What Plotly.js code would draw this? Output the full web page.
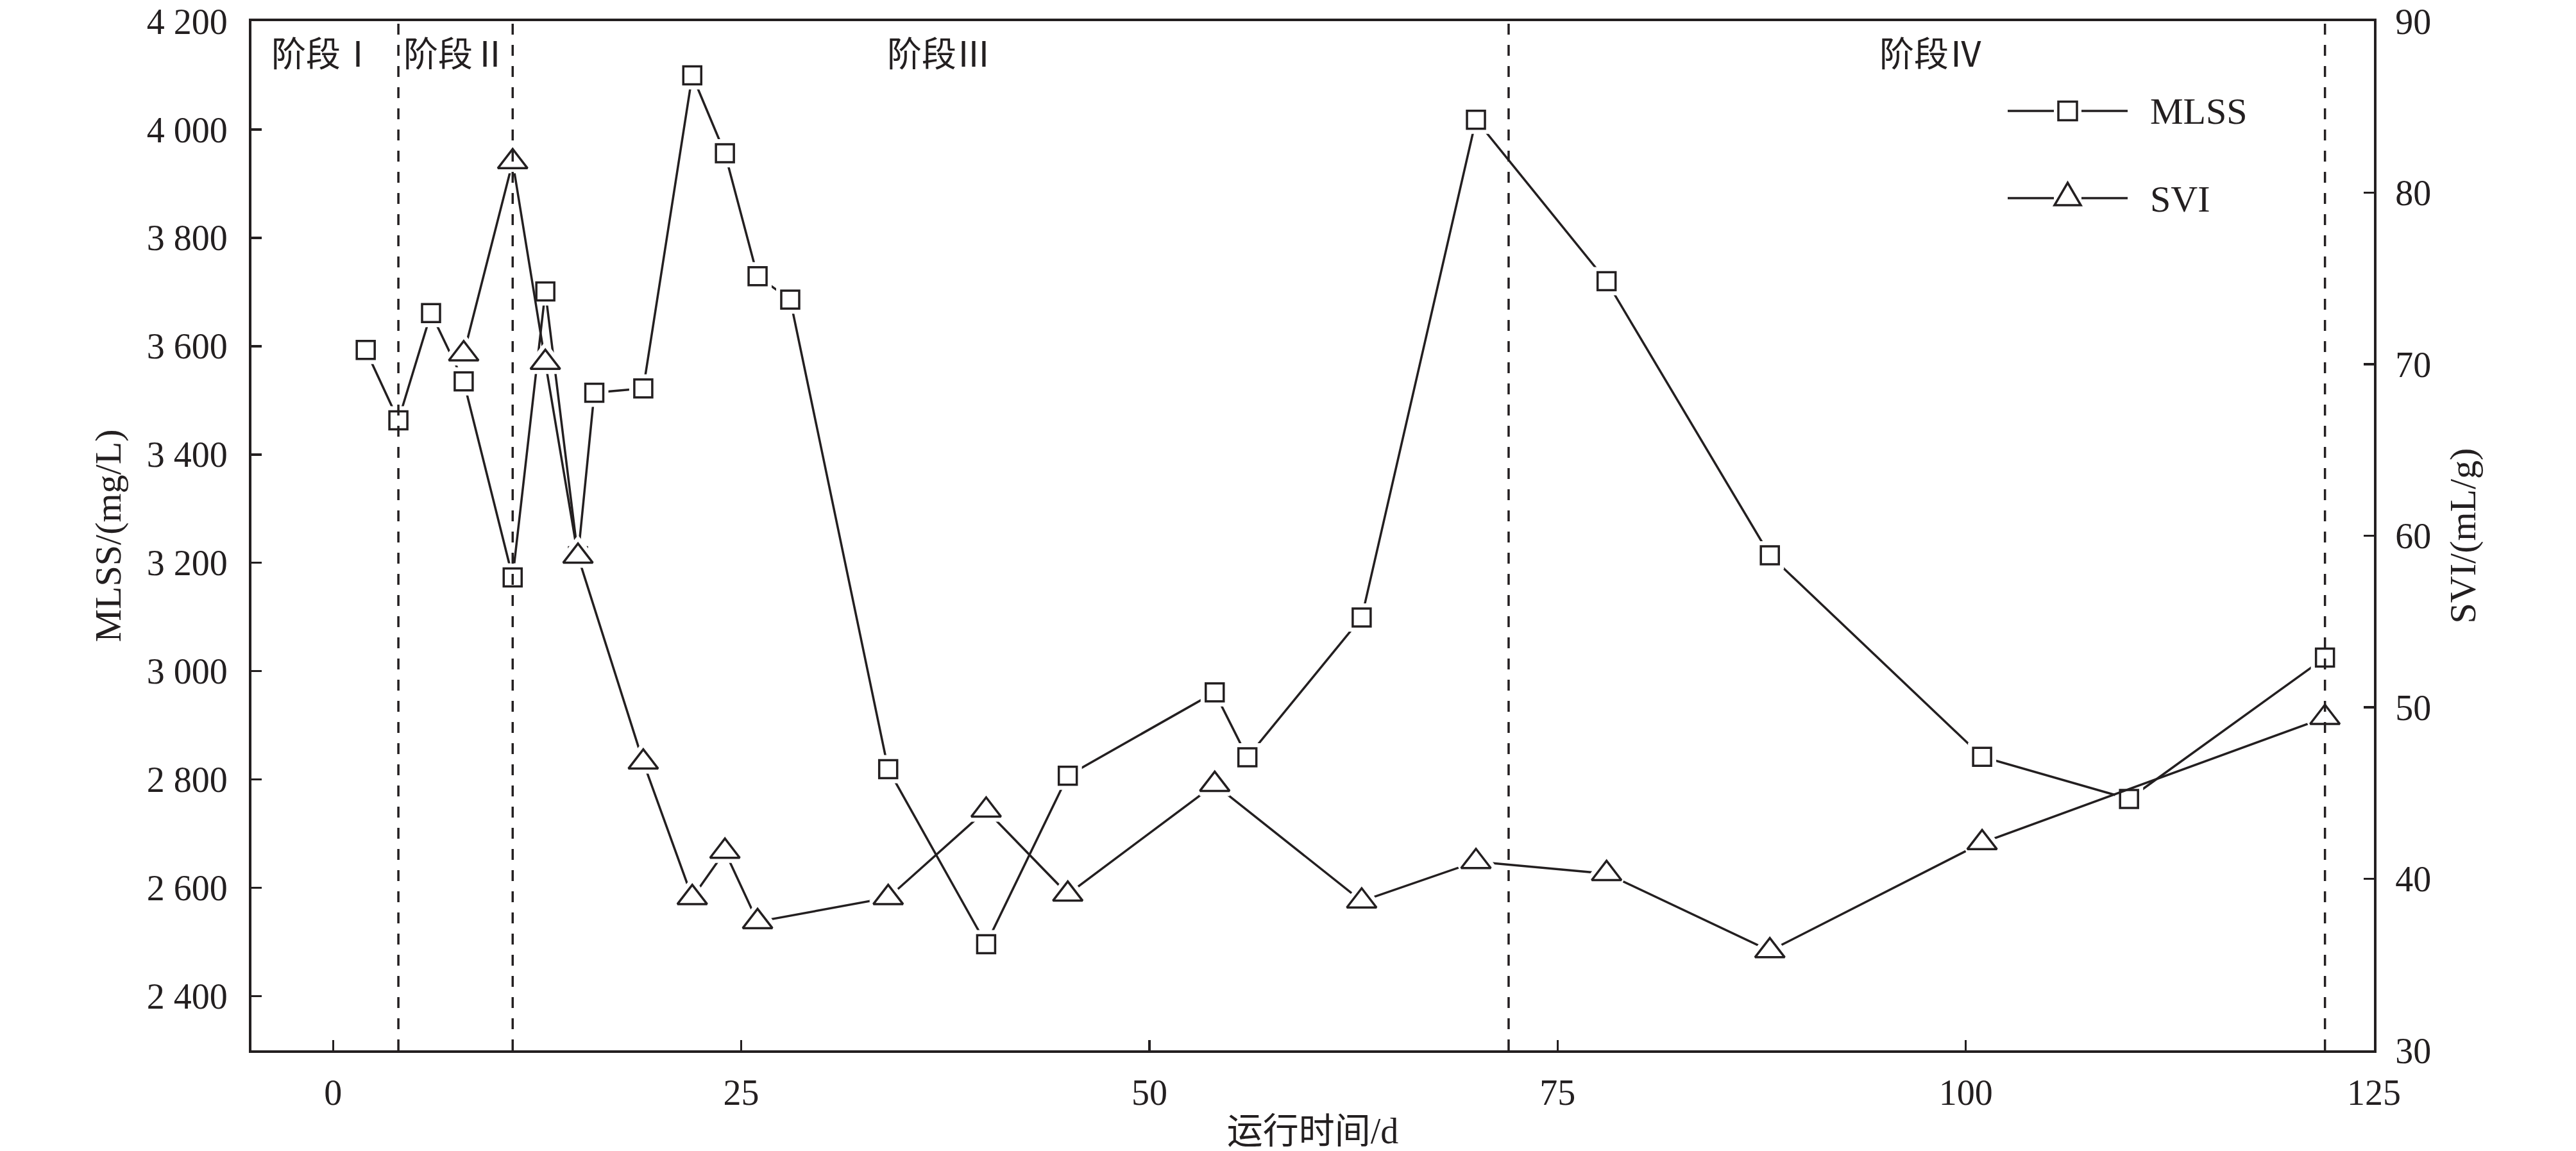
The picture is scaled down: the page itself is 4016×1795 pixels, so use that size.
<!DOCTYPE html>
<html>
<head>
<meta charset="utf-8">
<script src="https://cdn.plot.ly/plotly-3.0.1.min.js"></script>
<style>
html, body { margin: 0; padding: 0; background: #ffffff; }
#chart { width: 4016px; height: 1795px; }
</style>
</head>
<body>
<div id="chart"></div>
<script>
// ---- data ----
const mlssDays   = [2, 4, 6, 8, 11, 13, 15, 16, 19, 22, 24, 26, 28, 34, 40, 45, 54, 56, 63, 70, 78, 88, 101, 110, 122];
const mlssValues = [3593, 3463, 3661, 3535, 3173, 3701, 3212, 3514, 3522, 4100, 3956, 3729, 3686, 2819, 2496, 2807, 2961, 2841, 3099, 4018, 3720, 3214, 2842, 2764, 3025];

const sviDays   = [8, 11, 13, 15, 19, 22, 24, 26, 34, 40, 45, 54, 63, 70, 78, 88, 101, 122];
const sviValues = [70.6, 81.8, 70.1, 58.8, 46.8, 38.9, 41.6, 37.5, 38.9, 44.0, 39.1, 45.5, 38.7, 41.0, 40.3, 35.8, 42.1, 49.4];

const xTickVals    = [0, 25, 50, 75, 100, 125];
const mlssTickVals = [2400, 2600, 2800, 3000, 3200, 3400, 3600, 3800, 4000, 4200];
const mlssTickText = ['2 400', '2 600', '2 800', '3 000', '3 200', '3 400', '3 600', '3 800', '4 000', '4 200'];
const sviTickVals  = [30, 40, 50, 60, 70, 80, 90];

const phaseBounds = [4, 11, 72, 122];
const phaseNames  = ['阶段Ⅰ', '阶段Ⅱ', '阶段Ⅲ', '阶段Ⅳ'];
const seriesNames = ['MLSS', 'SVI'];

// ---- styling / layout ----
const INK = '#231f20';
const SERIF = 'Liberation Serif, "Times New Roman", serif';
const CJK = 'Liberation Serif, "Noto Sans CJK SC", serif';
const W = 4016, H = 1795;
const M = { l: 392, r: 315, t: 33, b: 157 };
const PW = W - M.l - M.r, PH = H - M.t - M.b;
function px(xPix) { return (xPix - M.l) / PW; }          // page pixel -> paper x
function py(yPix) { return 1 - (yPix - M.t) / PH; }      // page pixel -> paper y

function seriesTraces(name, xs, ys, yaxis, symbol, size) {
  const mk = { symbol: symbol, size: size, color: '#ffffff', line: { color: INK, width: 3.5 } };
  return [
    { type: 'scatter', mode: 'lines+markers', name: name, showlegend: false,
      x: xs, y: ys, yaxis: yaxis, line: { color: INK, width: 3.5 }, marker: mk, hoverinfo: 'x+y' },
    { type: 'scatter', mode: 'markers', showlegend: false, hoverinfo: 'skip',
      x: xs, y: ys, yaxis: yaxis,
      marker: { symbol: symbol, size: size, color: '#ffffff', line: { color: '#ffffff', width: 16 } } },
    { type: 'scatter', mode: 'markers', showlegend: false, hoverinfo: 'skip',
      x: xs, y: ys, yaxis: yaxis, marker: mk }
  ];
}

const traces = []
  .concat(seriesTraces(seriesNames[0], mlssDays, mlssValues, 'y', 'square', 28))
  .concat(seriesTraces(seriesNames[1], sviDays, sviValues, 'y2', 'triangle-up', 40));

const axisCommon = {
  showgrid: false, zeroline: false,
  showline: true, linecolor: INK, linewidth: 4,
  ticks: 'inside', ticklen: 16, tickwidth: 3.5, tickcolor: INK,
  tickfont: { family: SERIF, size: 56, color: INK }
};

// phase boundary lines
const shapes = phaseBounds.map(function (b) {
  return { type: 'line', xref: 'x', yref: 'paper', x0: b, x1: b, y0: 0, y1: 1, layer: 'above',
           line: { color: INK, width: 3.5, dash: '17px,16px' } };
});

// hand-drawn legend key (line - symbol - line), as in the reference
const keyLine = { color: INK, width: 3.5 };
const rowY = [173, 309];
[0, 1].forEach(function (i) {
  const y = py(rowY[i]);
  shapes.push({ type: 'line', xref: 'paper', yref: 'paper', x0: px(3130), x1: px(3202), y0: y, y1: y, line: keyLine, layer: 'above' });
  shapes.push({ type: 'line', xref: 'paper', yref: 'paper', x0: px(3245), x1: px(3317), y0: y, y1: y, line: keyLine, layer: 'above' });
});
shapes.push({ type: 'rect', xref: 'paper', yref: 'paper', layer: 'above',
  x0: px(3209), x1: px(3238), y0: py(rowY[0] - 14.5), y1: py(rowY[0] + 14.5),
  fillcolor: '#ffffff', line: keyLine });
shapes.push({ type: 'path', xref: 'paper', yref: 'paper', layer: 'above',
  path: 'M ' + px(3223.5) + ' ' + py(285) + ' L ' + px(3244) + ' ' + py(320) + ' L ' + px(3203) + ' ' + py(320) + ' Z',
  fillcolor: '#ffffff', line: keyLine });

const annotations = phaseNames.map(function (t, i) {
  const xs = [-0.6, 7.5, 37.1, 97.9];
  return { text: t, xref: 'x', yref: 'paper', x: xs[i], y: py(86),
           xanchor: 'center', yanchor: 'middle', showarrow: false,
           font: { family: CJK, size: 54, color: INK } };
}).concat(seriesNames.map(function (t, i) {
  return { text: t, xref: 'paper', yref: 'paper', x: px(3350), y: py(rowY[i] + 1),
           xanchor: 'left', yanchor: 'middle', showarrow: false,
           font: { family: SERIF, size: 58, color: INK } };
}));

const layout = {
  width: W, height: H,
  margin: { l: M.l, r: M.r, t: M.t, b: M.b, pad: 0 },
  paper_bgcolor: '#ffffff', plot_bgcolor: '#ffffff',
  font: { family: SERIF, size: 56, color: INK },
  showlegend: false,
  xaxis: Object.assign({}, axisCommon, {
    range: [-5, 125], tickvals: xTickVals, mirror: true,
    ticklabelstandoff: 14,
    title: { text: '运行时间/d', font: { family: CJK, size: 56, color: INK }, standoff: 18 }
  }),
  yaxis: Object.assign({}, axisCommon, {
    range: [2300, 4200], tickvals: mlssTickVals, ticktext: mlssTickText,
    ticklabelstandoff: 22,
    title: { text: 'MLSS/(mg/L)', font: { family: SERIF, size: 58, color: INK }, standoff: 22 }
  }),
  yaxis2: Object.assign({}, axisCommon, {
    range: [30, 90], tickvals: sviTickVals, overlaying: 'y', side: 'right',
    ticklabelstandoff: 18,
    title: { text: 'SVI/(mL/g)', font: { family: SERIF, size: 58, color: INK }, standoff: 30 }
  }),
  shapes: shapes,
  annotations: annotations
};

Plotly.newPlot('chart', traces, layout, { staticPlot: true, displayModeBar: false });
</script>
</body>
</html>
